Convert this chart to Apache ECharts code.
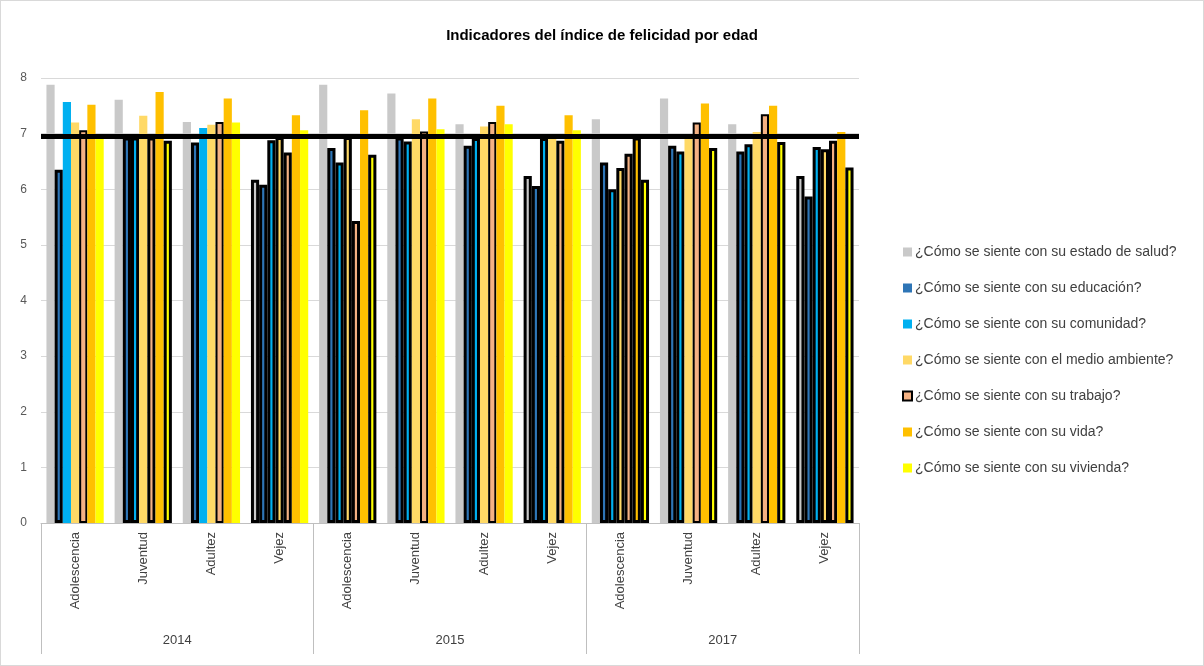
<!DOCTYPE html>
<html>
<head>
<meta charset="utf-8">
<script src="https://cdn.jsdelivr.net/npm/echarts@6/dist/echarts.min.js"></script>
<style>
  html, body { margin: 0; padding: 0; background: #fff; }
  #wrap { width: 1202px; height: 664px; border: 1px solid #d9d9d9; }
  #chart { width: 1202px; height: 664px; }
</style>
</head>
<body>
<div id="wrap"><div id="chart"></div></div>
<script>
const categories = ['Adolescencia','Juventud','Adultez','Vejez','Adolescencia','Juventud','Adultez','Vejez','Adolescencia','Juventud','Adultez','Vejez'];
const years = ['2014','2015','2017'];
const yTicks = [0,1,2,3,4,5,6,7,8];
const seriesNames = [
  '¿Cómo se siente con su estado de salud?',
  '¿Cómo se siente con su educación?',
  '¿Cómo se siente con su comunidad?',
  '¿Cómo se siente con el medio ambiente?',
  '¿Cómo se siente con su trabajo?',
  '¿Cómo se siente con su vida?',
  '¿Cómo se siente con su vivienda?'
];
const salud     = [7.88, 7.61, 7.21, 6.17, 7.88, 7.72, 7.17, 6.24, 7.26, 7.63, 7.17, 6.24];
const educacion = [6.35, 6.93, 6.84, 6.08, 6.74, 6.93, 6.78, 6.06, 6.48, 6.78, 6.68, 5.87];
const comunidad = [7.57, 6.93, 7.10, 6.88, 6.48, 6.86, 6.92, 6.92, 6.00, 6.68, 6.81, 6.76];
const medio     = [7.20, 7.32, 7.16, 6.94, 6.94, 7.26, 7.13, 6.98, 6.38, 6.97, 7.03, 6.72];
const trabajo   = [7.06, 6.93, 7.21, 6.66, 5.43, 7.04, 7.21, 6.87, 6.64, 7.20, 7.35, 6.87];
const vida      = [7.52, 7.75, 7.63, 7.33, 7.42, 7.63, 7.50, 7.33, 6.93, 7.54, 7.50, 7.03];
const vivienda  = [6.97, 6.87, 7.20, 7.06, 6.62, 7.08, 7.17, 7.06, 6.17, 6.74, 6.85, 6.39];
const referencia = 6.95;

const seriesValues = [salud, educacion, comunidad, medio, trabajo, vida, vivienda];
const colors = ['#c9c9c9', '#2e75b6', '#00b0f0', '#ffd966', '#f4b183', '#ffc000', '#ffff00'];

const FONT = 'Liberation Sans';

const series = seriesValues.map((vals, i) => {
  const isTrabajo = i === 4;
  const s = {
    name: seriesNames[i],
    type: 'bar',
    barGap: '0%',
    barCategoryGap: '16%',
    itemStyle: isTrabajo ? { color: colors[i], borderColor: '#000', borderWidth: 2 } : { color: colors[i] },
    data: vals.map(v => v < referencia
      ? { value: v, itemStyle: { borderColor: '#000', borderWidth: 3 } }
      : v)
  };
  if (i === seriesValues.length - 1) {
    s.markLine = {
      silent: true,
      symbol: 'none',
      label: { show: false },
      lineStyle: { color: '#000', width: 5, type: 'solid' },
      data: [{ yAxis: referencia }]
    };
  }
  return s;
});

const chart = echarts.init(document.getElementById('chart'), null, { renderer: 'canvas' });
chart.setOption({
  animation: false,
  color: colors,
  textStyle: { fontFamily: FONT },
  title: {
    text: 'Indicadores del índice de felicidad por edad',
    left: 'center',
    top: 22,
    textStyle: { fontFamily: FONT, fontSize: 15, fontWeight: 'bold', color: '#000' }
  },
  legend: {
    orient: 'vertical',
    left: 896,
    top: 239,
    itemWidth: 9,
    itemHeight: 9,
    itemGap: 22,
    icon: 'rect',
    textStyle: { fontFamily: FONT, fontSize: 14, color: '#404040', padding: [0, 0, 0, -2] },
    data: seriesNames
  },
  grid: { left: 40, right: 344, top: 77, bottom: 142, containLabel: false },
  xAxis: [
    {
      type: 'category',
      data: categories,
      position: 'bottom',
      axisLine: { show: true, lineStyle: { color: '#bfbfbf' } },
      axisTick: { show: false },
      axisLabel: { rotate: 90, margin: 9, fontFamily: FONT, fontSize: 13, color: '#404040' }
    },
    {
      type: 'category',
      data: years,
      position: 'bottom',
      axisLine: { show: false },
      axisTick: { show: true, length: 131, lineStyle: { color: '#bfbfbf' } },
      axisLabel: { margin: 111, fontFamily: FONT, fontSize: 13, color: '#404040' }
    }
  ],
  yAxis: {
    type: 'value',
    min: yTicks[0],
    max: yTicks[yTicks.length - 1],
    interval: 1,
    axisLine: { show: false },
    axisTick: { show: false },
    splitLine: { lineStyle: { color: '#d9d9d9' } },
    axisLabel: { margin: 14, fontFamily: FONT, fontSize: 12, color: '#595959' }
  },
  series: series
});
</script>
</body>
</html>
